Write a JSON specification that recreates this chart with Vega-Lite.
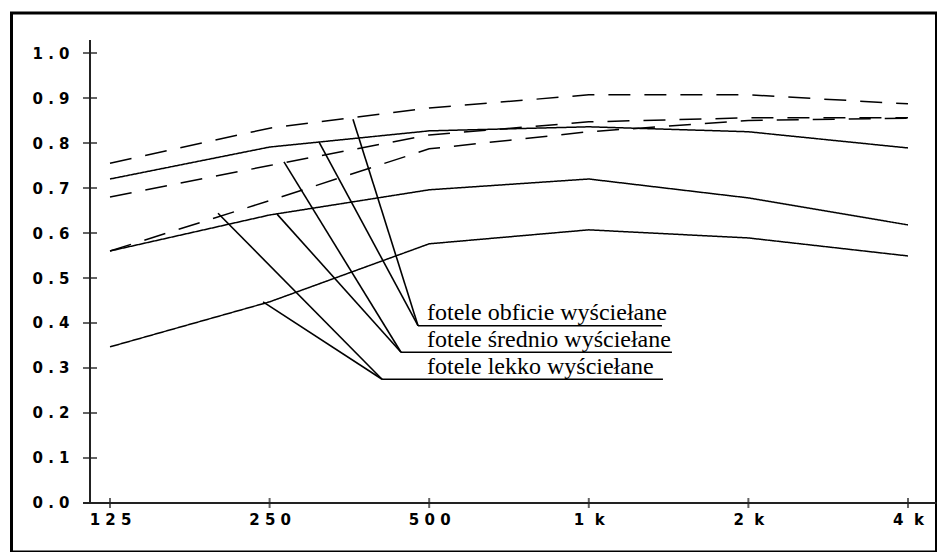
{
  "$schema": "https://vega.github.io/schema/vega-lite/v6.json",
  "width": 925,
  "height": 539,
  "autosize": {"type": "none"},
  "padding": {"left": 11.5, "top": 13, "right": 0, "bottom": 0},
  "background": "white",
  "config": {
    "view": {"stroke": "black", "strokeWidth": 3},
    "axis": {
      "labelFont": "DejaVu Sans",
      "labelFontWeight": "bold",
      "labelFontSize": 15,
      "labelColor": "black",
      "domain": false,
      "ticks": false,
      "grid": false,
      "labelOverlap": false,
      "labelFlush": false
    }
  },
  "datasets": {
    "curves": [
      {"x": 125, "y": 0.755, "grupa": "obficie", "linia": "przerywana"},
      {"x": 250, "y": 0.833, "grupa": "obficie", "linia": "przerywana"},
      {"x": 500, "y": 0.878, "grupa": "obficie", "linia": "przerywana"},
      {"x": 1000, "y": 0.907, "grupa": "obficie", "linia": "przerywana"},
      {"x": 2000, "y": 0.907, "grupa": "obficie", "linia": "przerywana"},
      {"x": 4000, "y": 0.887, "grupa": "obficie", "linia": "przerywana"},
      {"x": 125, "y": 0.72, "grupa": "obficie", "linia": "ciągła"},
      {"x": 250, "y": 0.791, "grupa": "obficie", "linia": "ciągła"},
      {"x": 500, "y": 0.827, "grupa": "obficie", "linia": "ciągła"},
      {"x": 1000, "y": 0.836, "grupa": "obficie", "linia": "ciągła"},
      {"x": 2000, "y": 0.825, "grupa": "obficie", "linia": "ciągła"},
      {"x": 4000, "y": 0.789, "grupa": "obficie", "linia": "ciągła"},
      {"x": 125, "y": 0.68, "grupa": "średnio", "linia": "przerywana"},
      {"x": 250, "y": 0.75, "grupa": "średnio", "linia": "przerywana"},
      {"x": 500, "y": 0.818, "grupa": "średnio", "linia": "przerywana"},
      {"x": 1000, "y": 0.847, "grupa": "średnio", "linia": "przerywana"},
      {"x": 2000, "y": 0.856, "grupa": "średnio", "linia": "przerywana"},
      {"x": 4000, "y": 0.856, "grupa": "średnio", "linia": "przerywana"},
      {"x": 125, "y": 0.56, "grupa": "średnio", "linia": "ciągła"},
      {"x": 250, "y": 0.64, "grupa": "średnio", "linia": "ciągła"},
      {"x": 500, "y": 0.696, "grupa": "średnio", "linia": "ciągła"},
      {"x": 1000, "y": 0.72, "grupa": "średnio", "linia": "ciągła"},
      {"x": 2000, "y": 0.678, "grupa": "średnio", "linia": "ciągła"},
      {"x": 4000, "y": 0.618, "grupa": "średnio", "linia": "ciągła"},
      {"x": 125, "y": 0.56, "grupa": "lekko", "linia": "przerywana"},
      {"x": 250, "y": 0.672, "grupa": "lekko", "linia": "przerywana"},
      {"x": 500, "y": 0.787, "grupa": "lekko", "linia": "przerywana"},
      {"x": 1000, "y": 0.825, "grupa": "lekko", "linia": "przerywana"},
      {"x": 2000, "y": 0.85, "grupa": "lekko", "linia": "przerywana"},
      {"x": 4000, "y": 0.855, "grupa": "lekko", "linia": "przerywana"},
      {"x": 125, "y": 0.347, "grupa": "lekko", "linia": "ciągła"},
      {"x": 250, "y": 0.447, "grupa": "lekko", "linia": "ciągła"},
      {"x": 500, "y": 0.576, "grupa": "lekko", "linia": "ciągła"},
      {"x": 1000, "y": 0.607, "grupa": "lekko", "linia": "ciągła"},
      {"x": 2000, "y": 0.589, "grupa": "lekko", "linia": "ciągła"},
      {"x": 4000, "y": 0.549, "grupa": "lekko", "linia": "ciągła"}
    ],
    "yticks": [
      {"x": 114.6, "y": 0.0}, {"x": 114.6, "y": 0.1}, {"x": 114.6, "y": 0.2},
      {"x": 114.6, "y": 0.3}, {"x": 114.6, "y": 0.4}, {"x": 114.6, "y": 0.5},
      {"x": 114.6, "y": 0.6}, {"x": 114.6, "y": 0.7}, {"x": 114.6, "y": 0.8},
      {"x": 114.6, "y": 0.9}, {"x": 114.6, "y": 1.0}
    ],
    "xticks": [
      {"x": 125, "y": 0}, {"x": 250, "y": 0}, {"x": 500, "y": 0},
      {"x": 1000, "y": 0}, {"x": 2000, "y": 0}, {"x": 4000, "y": 0}
    ],
    "axislines": [
      {"x": 114.6, "y": 0, "x2": 114.6, "y2": 1.029},
      {"x": 111.2, "y": 0, "x2": 4527, "y2": 0}
    ],
    "leaders": [
      {"x": 359.1, "y": 0.853, "x2": 476.3, "y2": 0.394},
      {"x": 309.9, "y": 0.802, "x2": 476.3, "y2": 0.394},
      {"x": 266.1, "y": 0.758, "x2": 442.4, "y2": 0.3349},
      {"x": 258.2, "y": 0.642, "x2": 442.4, "y2": 0.3349},
      {"x": 199.8, "y": 0.644, "x2": 407.4, "y2": 0.2749},
      {"x": 243, "y": 0.447, "x2": 407.4, "y2": 0.2749},
      {"x": 476.3, "y": 0.394, "x2": 1374, "y2": 0.394},
      {"x": 442.4, "y": 0.3349, "x2": 1435, "y2": 0.3349},
      {"x": 407.4, "y": 0.2749, "x2": 1380, "y2": 0.2749}
    ],
    "labels": [
      {"x": 495.3, "y": 0.4067, "tekst": "fotele obficie wyściełane"},
      {"x": 495.3, "y": 0.3473, "tekst": "fotele średnio wyściełane"},
      {"x": 495.3, "y": 0.2867, "tekst": "fotele lekko wyściełane"}
    ]
  },
  "encoding": {
    "x": {
      "field": "x", "type": "quantitative",
      "scale": {"type": "log", "base": 2, "domain": [81.49, 4527.6], "nice": false, "zero": false},
      "axis": {
        "title": null,
        "values": [125, 250, 500, 1000, 2000, 4000],
        "labelExpr": "datum.value >= 1000 ? format(datum.value / 1000, 'd') + '\u00a0\u00a0k' : join(split(format(datum.value, 'd'), ''), ' ')",
        "labelPadding": 9,
        "offset": -49
      }
    },
    "y": {
      "field": "y", "type": "quantitative",
      "scale": {"domain": [-0.1089, 1.0889], "nice": false, "zero": false},
      "axis": {
        "title": null,
        "values": [0, 0.1, 0.2, 0.3, 0.4, 0.5, 0.6, 0.7, 0.8, 0.9, 1.0],
        "labelExpr": "join(split(format(datum.value, '.1f'), ''), ' ')",
        "labelPadding": 21,
        "offset": -78.5
      }
    }
  },
  "layer": [
    {
      "data": {"name": "curves"},
      "mark": {"type": "line", "color": "black", "strokeWidth": 1.5},
      "encoding": {
        "detail": [{"field": "grupa"}, {"field": "linia"}],
        "strokeDash": {
          "field": "linia", "type": "nominal",
          "scale": {"domain": ["ciągła", "przerywana"], "range": [[1, 0], [22, 14]]},
          "legend": null
        },
        "order": {"field": "x", "type": "quantitative"}
      }
    },
    {
      "data": {"name": "axislines"},
      "mark": {"type": "rule", "color": "#222", "strokeWidth": 2},
      "encoding": {
        "x2": {"field": "x2"},
        "y2": {"field": "y2"}
      }
    },
    {
      "data": {"name": "yticks"},
      "mark": {"type": "tick", "orient": "horizontal", "color": "#222", "size": 14, "thickness": 2},
      "encoding": {}
    },
    {
      "data": {"name": "xticks"},
      "mark": {"type": "tick", "orient": "vertical", "color": "#222", "size": 10, "thickness": 2},
      "encoding": {}
    },
    {
      "data": {"name": "leaders"},
      "mark": {"type": "rule", "color": "black", "strokeWidth": 1.6},
      "encoding": {
        "x2": {"field": "x2"},
        "y2": {"field": "y2"}
      }
    },
    {
      "data": {"name": "labels"},
      "mark": {"type": "text", "align": "left", "baseline": "alphabetic", "font": "Liberation Serif", "fontSize": 24, "color": "black"},
      "encoding": {
        "text": {"field": "tekst"}
      }
    }
  ]
}
